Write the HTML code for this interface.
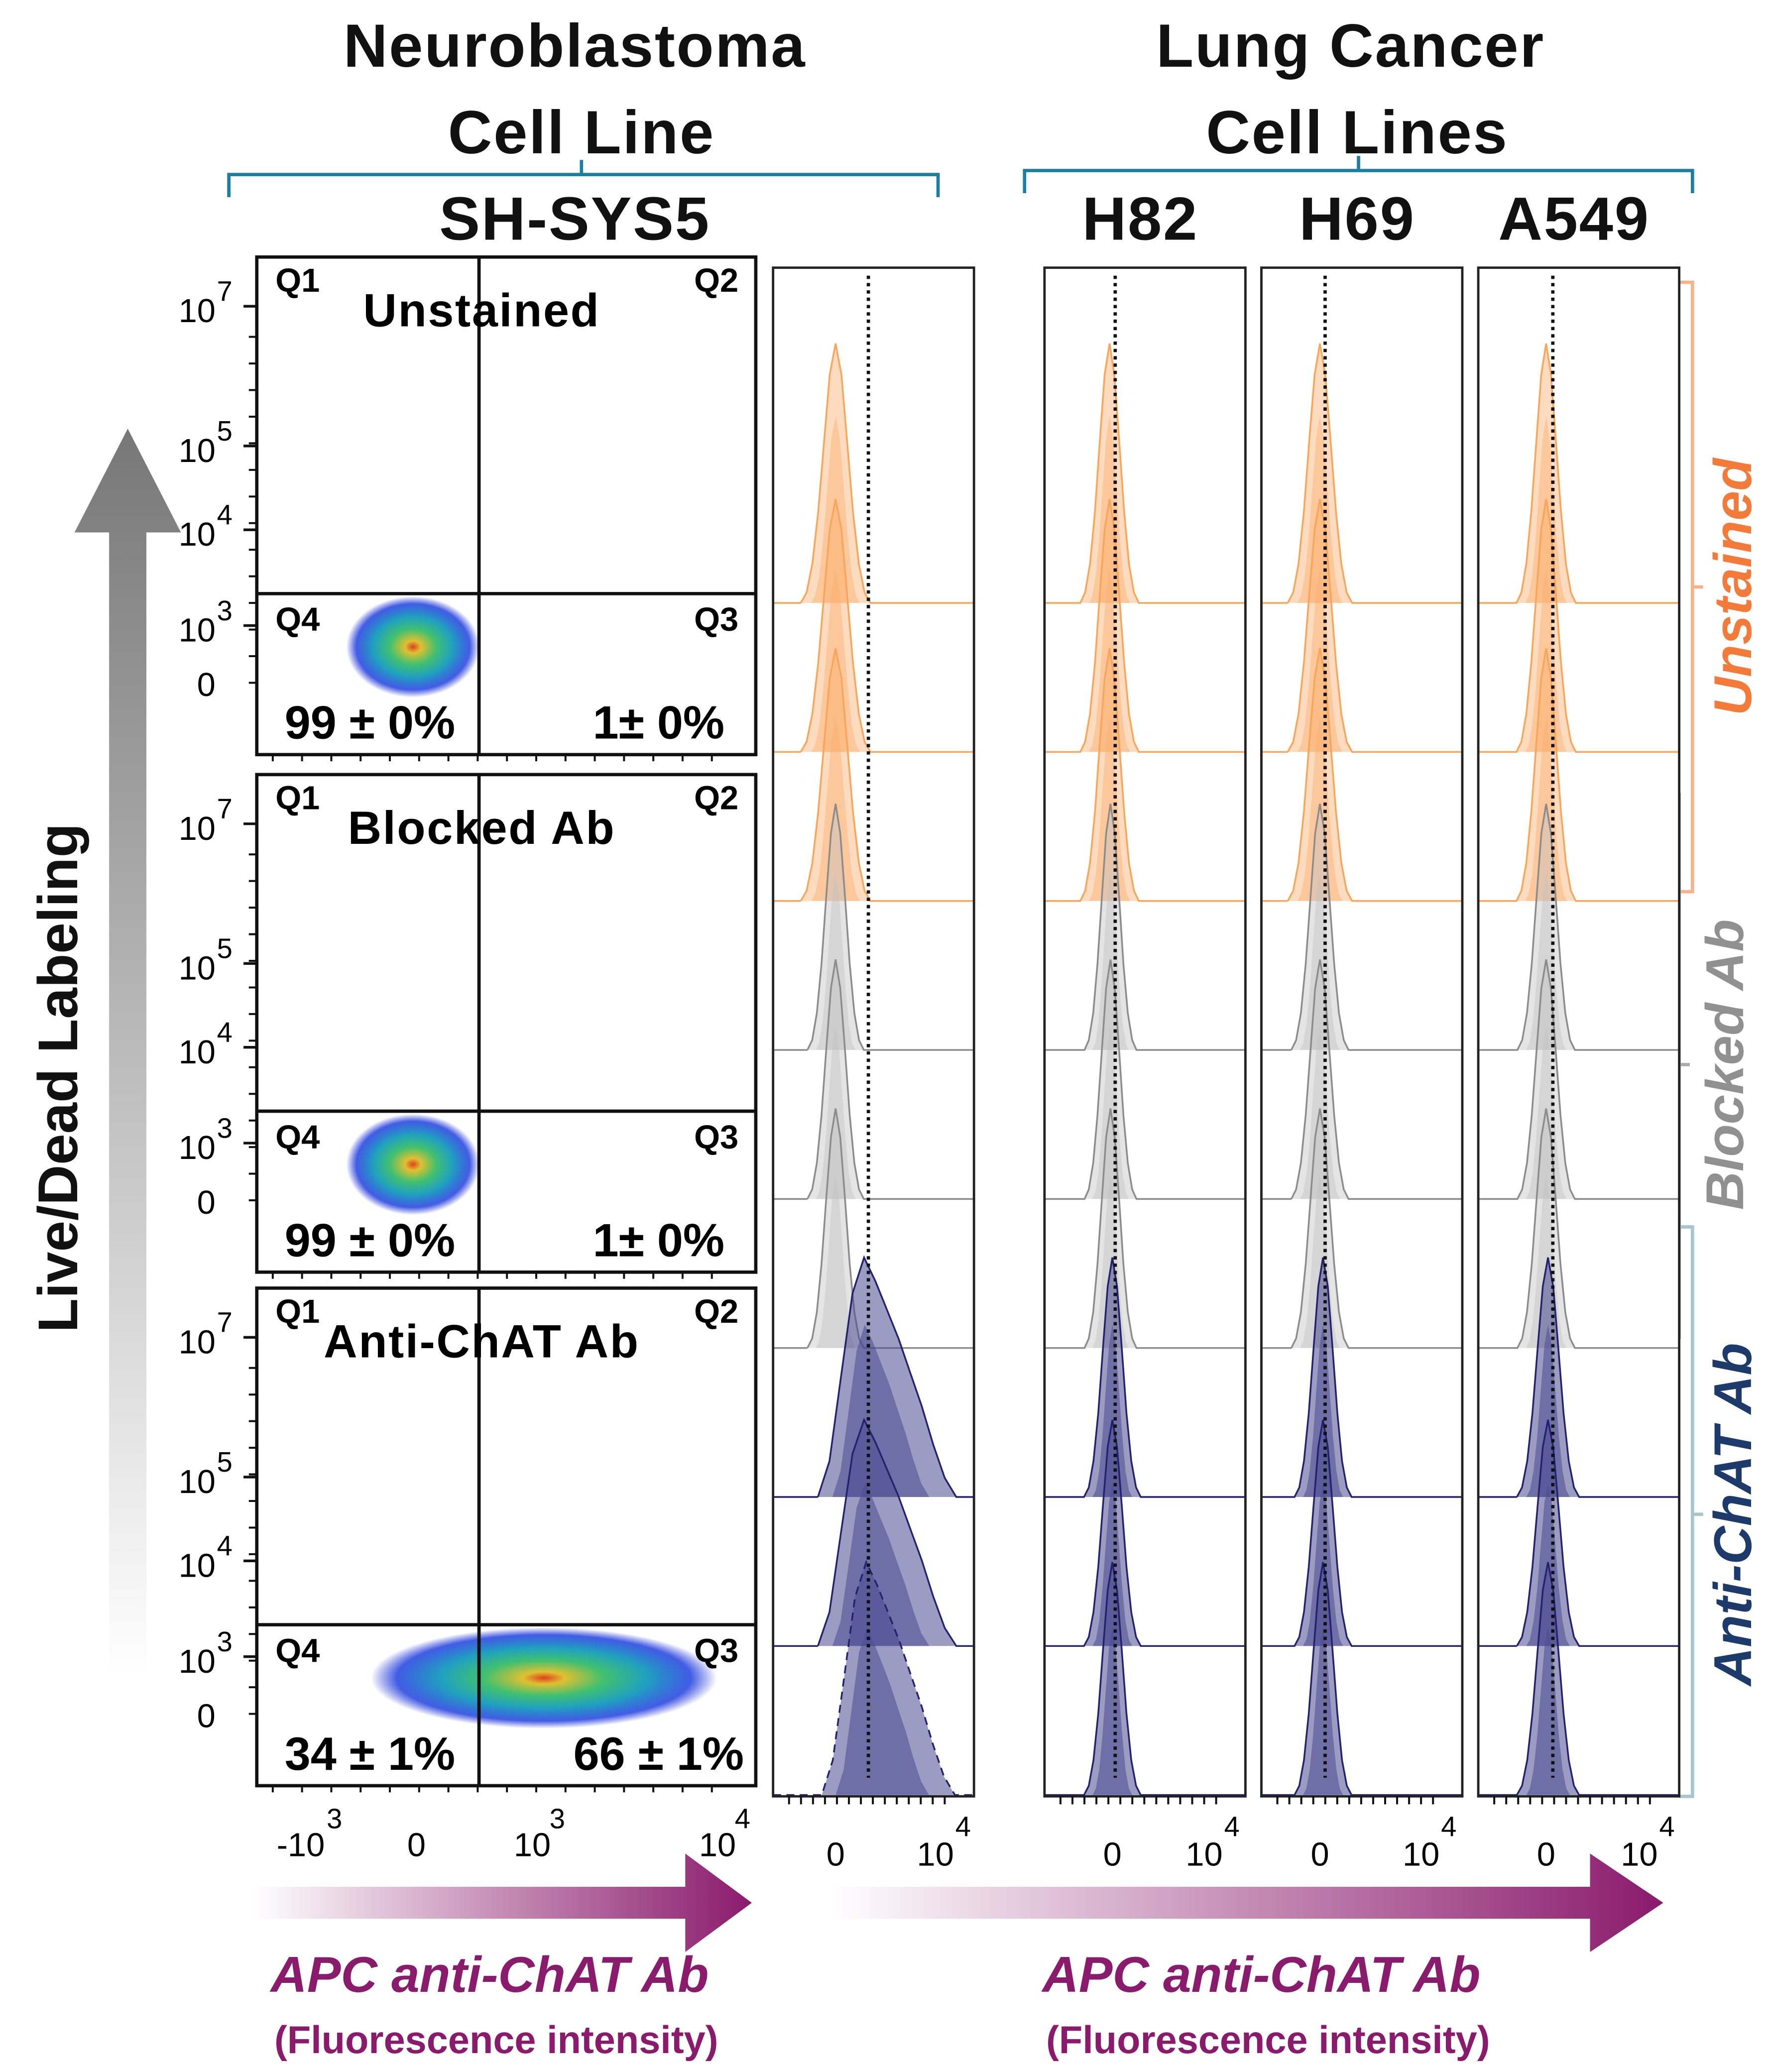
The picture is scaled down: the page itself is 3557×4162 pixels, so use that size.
<!DOCTYPE html>
<html><head><meta charset="utf-8"><style>
html,body{margin:0;padding:0;background:#fff;}
svg{display:block;font-family:"Liberation Sans","DejaVu Sans",sans-serif;}
</style></head><body>
<svg id="fig" width="3557" height="4162" viewBox="0 0 1331 1557" xmlns="http://www.w3.org/2000/svg">
<defs>
<linearGradient id="grayArrow" x1="0" y1="1" x2="0" y2="0"><stop offset="0" stop-color="#fff"/><stop offset="1" stop-color="#777"/></linearGradient>
<linearGradient id="purpArrow" x1="0" y1="0" x2="1" y2="0"><stop offset="0" stop-color="#fff"/><stop offset="1" stop-color="#8a1a6c"/></linearGradient>
<radialGradient id="dens"><stop offset="0" stop-color="#e04020"/><stop offset="0.12" stop-color="#e0c030"/><stop offset="0.35" stop-color="#40c070"/><stop offset="0.6" stop-color="#20a0c0"/><stop offset="0.85" stop-color="#2040e0" stop-opacity="0.85"/><stop offset="1" stop-color="#2030d0" stop-opacity="0"/></radialGradient>
</defs>

<g font-weight="bold" font-size="46" text-anchor="middle" fill="#111" letter-spacing="1">
<text x="432" y="50">Neuroblastoma</text>
<text x="437" y="115">Cell Line</text>
<text x="432" y="180">SH-SYS5</text>
<text x="1015" y="50">Lung Cancer</text>
<text x="1020" y="115">Cell Lines</text>
<text x="857" y="180">H82</text>
<text x="1020" y="180">H69</text>
<text x="1183" y="180">A549</text>
</g>
<g stroke="#1a7fa0" stroke-width="2.5" fill="none">
<path d="M172 148 V131 H705 V148 M437 131 V120"/>
<path d="M770 145 V128 H1272 V145 M1021 128 V117"/>
</g>

<path d="M82 1260 V400 H56 L96 322 L136 400 H110 V1260 Z" fill="url(#grayArrow)"/>
<text transform="translate(58,810) rotate(-90)" text-anchor="middle" font-size="42" font-weight="bold" fill="#111">Live/Dead Labeling</text>

<path d="M190 1418 H515 V1393 L565 1430 L515 1467 V1442 H190 Z" fill="url(#purpArrow)"/>
<path d="M625 1418 H1195 V1393 L1250 1430 L1195 1467 V1442 H625 Z" fill="url(#purpArrow)"/>
<g fill="#8a1a6c" font-weight="bold" text-anchor="middle">
<text x="368" y="1497" font-size="38" font-style="italic">APC anti-ChAT Ab</text>
<text x="373" y="1543" font-size="29">(Fluorescence intensity)</text>
<text x="948" y="1497" font-size="38" font-style="italic">APC anti-ChAT Ab</text>
<text x="953" y="1543" font-size="29">(Fluorescence intensity)</text>
</g>

<g fill="none" stroke-width="2.5">
<path d="M1262 212 H1272 V670 H1262 M1272 441 H1280" stroke="#f8b28a"/>
<path d="M1252 597 H1262 V1005 H1252 M1262 800 H1270" stroke="#aaa"/>
<path d="M1262 922 H1272 V1350 H1262 M1272 1138 H1280" stroke="#a9c4cc"/>
</g>
<g font-weight="bold" font-style="italic" font-size="40" text-anchor="middle">
<text transform="translate(1316,441) rotate(-90)" fill="#f47a3a">Unstained</text>
<text transform="translate(1310,800) rotate(-90)" fill="#909090">Blocked Ab</text>
<text transform="translate(1316,1138) rotate(-90)" fill="#1c3a6a">Anti-ChAT Ab</text>
</g>

<g id="scatter"></g>
<g id="hists"></g>
</svg>
<script>
// ---- data ----
const panelTitles = ["Unstained", "Blocked Ab", "Anti-ChAT Ab"];
const q4Values = ["99 ± 0%", "99 ± 0%", "34 ± 1%"];
const q3Values = ["1± 0%", "1± 0%", "66 ± 1%"];
const cloudCenterX = [-0.03, -0.03, 1.1];
const cloudSpreadX = [0.63, 0.63, 2.3];
const yTickLabels = ["7", "5", "4", "3"];
const yTickValues = [7, 5, 4, 3];
const xTickLabels = ["-10", "0", "10", "10"];
const xTickSup = ["3", "", "3", "4"];
const xTickValues = [-1, 0, 1, 2.6];

const columns = ["SH-SY5Y", "H82", "H69", "A549"];
const groups = ["Unstained", "Blocked Ab", "Anti-ChAT Ab"];
const gateValues = [0.32, 0.03, 0.05, 0.07];
const peakCenters = [
  [0, 0, 0, 0, 0, 0, 0.3, 0.3, 0.32],
  [-0.03, -0.03, -0.03, -0.02, -0.02, -0.02, 0.0, 0.0, 0.0],
  [0.0, 0.0, 0.0, 0.0, 0.0, 0.0, 0.03, 0.03, 0.03],
  [0.0, 0.0, 0.0, 0.0, 0.0, 0.0, 0.02, 0.02, 0.02]
];
const peakWidths = [
  [0.68, 0.68, 0.68, 0.55, 0.55, 0.55, 1.35, 1.35, 1.3],
  [0.62, 0.62, 0.62, 0.55, 0.55, 0.55, 0.6, 0.6, 0.6],
  [0.62, 0.62, 0.62, 0.55, 0.55, 0.55, 0.55, 0.55, 0.55],
  [0.62, 0.62, 0.62, 0.6, 0.6, 0.6, 0.65, 0.65, 0.65]
];
const peakHeights = [195, 190, 190, 185, 180, 180, 180, 170, 175];
const narrowProfile = [0, 0.04, 0.15, 0.35, 0.62, 0.88, 1, 0.88, 0.62, 0.35, 0.15, 0.04, 0];
const broadProfile = [0, 0.15, 0.5, 0.85, 1, 0.9, 0.78, 0.66, 0.52, 0.38, 0.22, 0.08, 0];

const NS = "http://www.w3.org/2000/svg";
function mk(tag, attrs, parent) { const e = document.createElementNS(NS, tag); for (const k in attrs) e.setAttribute(k, attrs[k]); parent.appendChild(e); return e; }

const sc = document.getElementById("scatter");
const panelTops = [193, 582, 968], panelH = 374, pL = 193, pR = 568;
const xs = v => 313 + v * 87;
const hLineOffset = 253;
const ysRel = v => ({7: 37, 5: 142, 4: 205, 3: 277}[v]);

for (let p = 0; p < 3; p++) {
  const t = panelTops[p], hy = t + hLineOffset;
  const g = mk("g", {}, sc);
  
  
  const cx = xs(cloudCenterX[p]), rx = cloudSpreadX[p] * 87 * 0.55 + 20;
  const cl = mk("ellipse", {cx: cx, cy: hy + 40, rx: rx, ry: 38, fill: "url(#dens)"}, g);
  
  
  const fr = mk("rect", {x: pL, y: t, width: pR - pL, height: panelH, fill: "none", stroke: "#111", "stroke-width": 2.5}, g);
  
  
  mk("line", {x1: 360, y1: t, x2: 360, y2: t + panelH, stroke: "#111", "stroke-width": 2.5}, g);
  mk("line", {x1: pL, y1: hy, x2: pR, y2: hy, stroke: "#111", "stroke-width": 2.5}, g);
  const labs = [["Q1", 207, t + 26, "start"], ["Q2", 555, t + 26, "end"], ["Q4", 207, hy + 28, "start"], ["Q3", 555, hy + 28, "end"]];
  labs.forEach(l => { const e = mk("text", {x: l[1], y: l[2], "font-size": 25, "font-weight": "bold", "text-anchor": l[3]}, g); e.textContent = l[0];
    
     });
  const ti = mk("text", {x: 362, y: t + 52, "font-size": 35, "font-weight": "bold", "text-anchor": "middle", "letter-spacing": 1}, g); ti.textContent = panelTitles[p];
  
  
  const a = mk("text", {x: 278, y: t + panelH - 12, "font-size": 35, "font-weight": "bold", "text-anchor": "middle"}, g); a.textContent = q4Values[p];
  
  
  const b = mk("text", {x: 495, y: t + panelH - 12, "font-size": 35, "font-weight": "bold", "text-anchor": "middle"}, g); b.textContent = q3Values[p];
  
  
  yTickValues.forEach((v, i) => {
    const y = t + ysRel(v);
    const tx = mk("text", {x: 162, y: y + 12, "font-size": 25, "text-anchor": "end"}, g); tx.textContent = "10";
    
    
    const sp = mk("text", {x: 163, y: y - 4, "font-size": 21}, g); sp.textContent = yTickLabels[i];
    mk("line", {x1: 183, y1: y, x2: pL, y2: y, stroke: "#111", "stroke-width": 2}, g);
  });
  const z = mk("text", {x: 155, y: t + 330, "font-size": 25, "text-anchor": "middle"}, g); z.textContent = "0";
  
  
  for (let k = 0; k < 14; k++) mk("line", {x1: 187, y1: t + 60 + k * 20, x2: pL, y2: t + 60 + k * 20, stroke: "#111", "stroke-width": 1.5}, g);
  for (let k = 0; k < 16; k++) mk("line", {x1: 205 + k * 22, y1: t + panelH, x2: 205 + k * 22, y2: t + panelH + 5, stroke: "#111", "stroke-width": 1.5}, g);
}
xTickValues.forEach((v, i) => {
  const x = xs(v);
  const e = mk("text", {x: x, y: 1395, "font-size": 25, "text-anchor": "middle"}, sc); e.textContent = xTickLabels[i];
  
  
  if (xTickSup[i]) { const s = mk("text", {x: x + (xTickLabels[i].length * 6.5), y: 1374, "font-size": 21}, sc); s.textContent = xTickSup[i]; }
});

const hg = document.getElementById("hists");
const colLeft = [581, 785, 948, 1111], colW = 151;
const zeroX = [628, 836, 992, 1162], decadeX = [705, 907, 1070, 1234];
const rowBase = [453, 565, 677, 789, 901, 1013, 1125, 1237, 1349];
const fills = ["rgba(251,175,110,0.45)", "rgba(195,195,195,0.45)", "rgba(75,75,145,0.55)"];
const strokes = ["#f9a55a", "#8c8c8c", "#22226e"];
const axisX = (c, v) => zeroX[c] + v * (decadeX[c] - zeroX[c]);

function histPath(c, r, scaleH, scaleW) {
  const broad = (c === 0 && r >= 6);
  const prof = broad ? broadProfile : narrowProfile;
  const ctr = peakCenters[c][r], w = peakWidths[c][r] * scaleW;
  const x0 = axisX(c, broad ? ctr - w * 0.35 : ctr - w / 2), x1 = axisX(c, broad ? ctr + w * 0.65 : ctr + w / 2);
  const base = rowBase[r], H = peakHeights[r] * scaleH;
  let d = "M" + colLeft[c] + " " + base + " L" + x0 + " " + base;
  prof.forEach((h, i) => { d += " L" + (x0 + (x1 - x0) * i / (prof.length - 1)).toFixed(1) + " " + (base - h * H).toFixed(1); });
  d += " L" + (colLeft[c] + colW) + " " + base;
  return d;
}

for (let c = 0; c < 4; c++) {
  const g = mk("g", {}, hg);
  
  
  mk("rect", {x: colLeft[c], y: 201, width: colW, height: 1149, fill: "#fff", stroke: "none"}, g);
  for (let r = 0; r < 9; r++) {
    const gi = Math.floor(r / 3);
    const p1 = mk("path", {d: histPath(c, r, 1, 1), fill: fills[gi], stroke: strokes[gi], "stroke-width": 1.3, "stroke-dasharray": (c === 0 && r === 8) ? "6 4" : "none"}, g);
    
    
    const p2 = mk("path", {d: histPath(c, r, 0.72, 0.7), fill: fills[gi], stroke: "none"}, g);
    
    
  }
  const gx = axisX(c, gateValues[c]);
  const gl = mk("line", {x1: gx, y1: 207, x2: gx, y2: 1336, stroke: "#111", "stroke-width": 2.5, "stroke-dasharray": "2.5 3"}, g);
  
  
  const fr = mk("rect", {x: colLeft[c], y: 201, width: colW, height: 1149, fill: "none", stroke: "#222", "stroke-width": 1.8}, g);
  
  
  for (let k = 0; k < 14; k++) mk("line", {x1: colLeft[c] + 12 + k * 9, y1: 1350, x2: colLeft[c] + 12 + k * 9, y2: 1356, stroke: "#111", "stroke-width": 1.5}, g);
  const z = mk("text", {x: zeroX[c], y: 1402, "font-size": 25, "text-anchor": "middle"}, g); z.textContent = "0";
  
  
  const d = mk("text", {x: decadeX[c] - 2, y: 1402, "font-size": 25, "text-anchor": "middle"}, g); d.textContent = "10";
  
  
  const s = mk("text", {x: decadeX[c] + 13, y: 1380, "font-size": 21}, g); s.textContent = "4";
}
</script>
</body></html>
